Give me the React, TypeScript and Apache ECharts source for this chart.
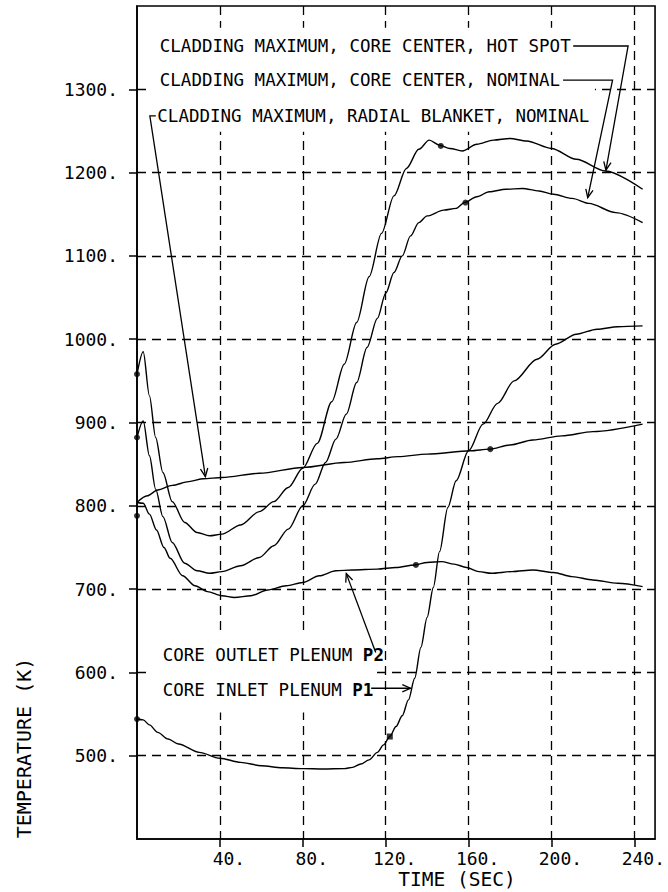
import React, { useEffect, useRef } from "react";
import * as echarts from "echarts";

// Time axis (s) and temperature (K) samples for each trace
const hotSpotTime = [0, 3, 6, 9, 12.5, 17, 23, 29, 35, 41, 50, 59, 66, 73, 80, 87, 94, 100, 106, 112, 118, 124, 130, 136, 141, 146, 151, 157, 164, 172, 180, 188, 200, 212, 226, 244];
const hotSpotTemp = [958, 985, 932, 882, 840, 805, 780, 768, 764, 766, 777, 793, 805, 822, 845, 875, 925, 970, 1020, 1075, 1127, 1172, 1205, 1228, 1239, 1233, 1229, 1226, 1234, 1239, 1241, 1238, 1229, 1216, 1202, 1180];

const nominalTime = [0, 3, 6, 9, 12.5, 17, 23, 29, 35, 41, 50, 59, 66, 73, 80, 86, 91, 96, 101, 106, 111, 116, 120, 124, 128, 132, 136, 140, 148, 154, 158, 164, 170, 178, 186, 194, 201, 210, 218, 231, 244];
const nominalTemp = [882, 902, 860, 820, 787, 756, 731, 722, 719, 721, 728, 738, 752, 772, 800, 826, 852, 880, 910, 948, 990, 1025, 1055, 1080, 1100, 1124, 1140, 1148, 1155, 1157, 1164, 1171, 1177, 1180, 1181, 1178, 1174, 1169, 1163, 1152, 1140];

const blanketTime = [0, 5, 10, 17, 25, 32, 41, 59, 80, 100, 116, 126, 140, 161, 170, 180, 191, 205, 220, 244];
const blanketTemp = [804, 812, 819, 824.5, 829, 832.5, 834, 839, 846, 852, 856.5, 859, 862, 866, 868, 873, 879, 884, 889, 898];

const outletTime = [0, 3, 6, 9.4, 13, 16, 22, 28, 34, 41, 47, 55, 63, 72, 80, 88, 96, 104, 116, 125, 134, 140, 147, 153, 159, 165, 171, 181, 191, 201, 210, 220, 232, 244];
const outletTemp = [804, 803, 790, 771, 750, 737, 716, 704, 697, 692, 690, 692, 699, 704, 708, 716, 722, 723, 724, 726, 729, 732, 733, 730, 726, 721, 719, 721, 723, 720, 715, 711, 707, 703];

const inletTime = [0, 3, 6, 10, 15, 20, 30, 40, 50, 60, 70, 80, 90, 100, 104, 108, 112, 116, 119, 122, 125, 128, 131, 134, 137, 140, 143, 146, 150, 154, 160, 167, 174, 182, 193, 202, 212, 222, 232, 244];
const inletTemp = [544, 543, 537, 528, 520, 514, 504, 497, 492, 488, 485.5, 484.5, 484, 484.5, 486, 490, 495, 504, 513, 523, 535, 548, 567, 593, 630, 666, 702, 745, 798, 830, 866, 898, 923, 950, 976, 994, 1006, 1012, 1015, 1016];

// Plot symbols along the traces
const dotMarkers = [[0, 958], [0, 882], [0, 788], [0, 544], [146.6, 1232], [170.5, 868], [134.6, 729], [158.5, 1164]];
const squareMarkers = [[122, 523]];

// Axis ticks
const xTicks = [40, 80, 120, 160, 200, 240];
const yTicks = [500, 600, 700, 800, 900, 1000, 1100, 1200, 1300];

const FONT = "'DejaVu Sans Mono', monospace";
const INK = "#000";

const pair = (ts: number[], vs: number[]) => ts.map((t, i) => [t, vs[i]]);

export default function App() {
  const ref = useRef<HTMLDivElement>(null);

  useEffect(() => {
    const chart = echarts.init(ref.current as HTMLDivElement, null, { renderer: "svg" });

    const trace = (name: string, ts: number[], vs: number[]) => ({
      type: "line",
      name,
      data: pair(ts, vs),
      smooth: 0.3,
      smoothMonotone: "x",
      symbol: "none",
      silent: true,
      z: 2,
      lineStyle: { color: INK, width: 1.4 },
    });

    chart.setOption({
      animation: false,
      backgroundColor: "#fff",
      textStyle: { fontFamily: FONT, color: INK },
      grid: {
        left: 137,
        right: 8,
        top: 6,
        bottom: 53,
        show: true,
        borderColor: INK,
        borderWidth: 1.6,
        backgroundColor: "transparent",
      },
      xAxis: {
        type: "value",
        min: 0,
        max: 250,
        interval: 40,
        axisLine: { show: true, lineStyle: { color: INK, width: 1.6 } },
        axisTick: { show: true, length: 8, customValues: xTicks, lineStyle: { color: INK, width: 1.5 } },
        axisLabel: {
          customValues: xTicks,
          margin: 10,
          fontSize: 18,
          fontFamily: FONT,
          color: INK,
          padding: [0, 0, 0, 18],
          formatter: (v: number) => (xTicks.includes(v) ? `${v}.` : ""),
        },
        splitLine: { show: true, lineStyle: { color: INK, width: 1.3, type: [9, 6] } },
      },
      yAxis: {
        type: "value",
        min: 400,
        max: 1400,
        interval: 100,
        axisLine: { show: true, lineStyle: { color: INK, width: 1.6 } },
        axisTick: { show: true, length: 8, customValues: yTicks, lineStyle: { color: INK, width: 1.5 } },
        axisLabel: {
          customValues: yTicks,
          margin: 19,
          fontSize: 18,
          fontFamily: FONT,
          color: INK,
          formatter: (v: number) => (yTicks.includes(v) ? `${v}.` : ""),
        },
        splitLine: { show: true, lineStyle: { color: INK, width: 1.3, type: [9, 6] } },
      },
      series: [
        trace("CLADDING MAXIMUM, CORE CENTER, HOT SPOT", hotSpotTime, hotSpotTemp),
        trace("CLADDING MAXIMUM, CORE CENTER, NOMINAL", nominalTime, nominalTemp),
        trace("CLADDING MAXIMUM, RADIAL BLANKET, NOMINAL", blanketTime, blanketTemp),
        trace("CORE OUTLET PLENUM P2", outletTime, outletTemp),
        trace("CORE INLET PLENUM P1", inletTime, inletTemp),
        {
          type: "scatter",
          data: dotMarkers,
          symbol: "circle",
          symbolSize: 6,
          silent: true,
          z: 3,
          itemStyle: { color: INK },
        },
        {
          type: "scatter",
          data: squareMarkers,
          symbol: "rect",
          symbolSize: 6,
          silent: true,
          z: 3,
          itemStyle: { color: INK },
        },
      ],
    });

    // Annotations are placed in data space and converted to pixels
    const px = (p: number[]) => chart.convertToPixel({ gridIndex: 0 }, p) as number[];
    const stroke = { stroke: INK, lineWidth: 1.3 };

    const arrowHead = (tip: number[], from: number[], len = 9, ang = 0.42) => {
      const a = Math.atan2(from[1] - tip[1], from[0] - tip[0]);
      return {
        type: "polyline",
        z: 5,
        shape: {
          points: [
            [tip[0] + len * Math.cos(a + ang), tip[1] + len * Math.sin(a + ang)],
            tip,
            [tip[0] + len * Math.cos(a - ang), tip[1] + len * Math.sin(a - ang)],
          ],
        },
        style: { ...stroke, fill: null },
      };
    };

    const leader = (pts: number[][]) => {
      const p = pts.map(px);
      return [
        { type: "polyline", z: 5, shape: { points: p }, style: { ...stroke, fill: null } },
        arrowHead(p[p.length - 1], p[p.length - 2]),
      ];
    };

    const label = (at: number[], text: string, rich = false) => {
      const [x, y] = px(at);
      return {
        type: "text",
        z: 5,
        x,
        y,
        style: {
          text,
          fontSize: 17.5,
          fontFamily: FONT,
          fill: INK,
          align: "left",
          verticalAlign: "middle",
          rich: rich
            ? { b: { fontSize: 17.5, fontFamily: FONT, fontWeight: "bold", fill: INK } }
            : undefined,
        },
      };
    };

    // White boxes behind the annotation blocks hide the grid there
    const mask = (a: number[], b: number[]) => {
      const p = px(a);
      const q = px(b);
      return {
        type: "rect",
        z: 1,
        shape: { x: p[0], y: p[1], width: q[0] - p[0], height: q[1] - p[1] },
        style: { fill: "#fff" },
      };
    };

    const blanketCorner = px([6.2, 1268]);
    const blanketTip = [33, 835];

    chart.setOption({
      graphic: [
        mask([5.3, 1374], [221, 1249]),
        mask([5.3, 644], [113.8, 552]),
        label([11, 1352], "CLADDING MAXIMUM, CORE CENTER, HOT SPOT"),
        ...leader([[210.5, 1352], [237, 1352], [226.3, 1203]]),
        label([11, 1311], "CLADDING MAXIMUM, CORE CENTER, NOMINAL"),
        ...leader([[205.6, 1311], [229.5, 1311], [217.5, 1170]]),
        label([9.8, 1268], "CLADDING MAXIMUM, RADIAL BLANKET, NOMINAL"),
        {
          type: "polyline",
          z: 5,
          shape: { points: [[blanketCorner[0] + 6, blanketCorner[1]], blanketCorner, px(blanketTip)] },
          style: { ...stroke, fill: null },
        },
        arrowHead(px(blanketTip), blanketCorner),
        label([12.4, 620.6], "CORE OUTLET PLENUM {b|P2}", true),
        ...leader([[115.2, 624], [101, 718.6]]),
        label([12.4, 578.7], "CORE INLET PLENUM {b|P1}", true),
        ...leader([[113, 581], [132, 581]]),
        {
          type: "text",
          z: 5,
          x: 24,
          y: 748,
          rotation: Math.PI / 2,
          style: {
            text: "TEMPERATURE (K)",
            fontSize: 20,
            fontFamily: FONT,
            fill: INK,
            align: "center",
            verticalAlign: "middle",
          },
        },
        {
          type: "text",
          z: 5,
          x: 457,
          y: 879,
          style: {
            text: "TIME (SEC)",
            fontSize: 19.5,
            fontFamily: FONT,
            fill: INK,
            align: "center",
            verticalAlign: "middle",
          },
        },
      ],
    });

    return () => chart.dispose();
  }, []);

  return (
    <div
      ref={ref}
      style={{ position: "fixed", left: 0, top: 0, width: 668, height: 892, background: "#fff" }}
    />
  );
}
